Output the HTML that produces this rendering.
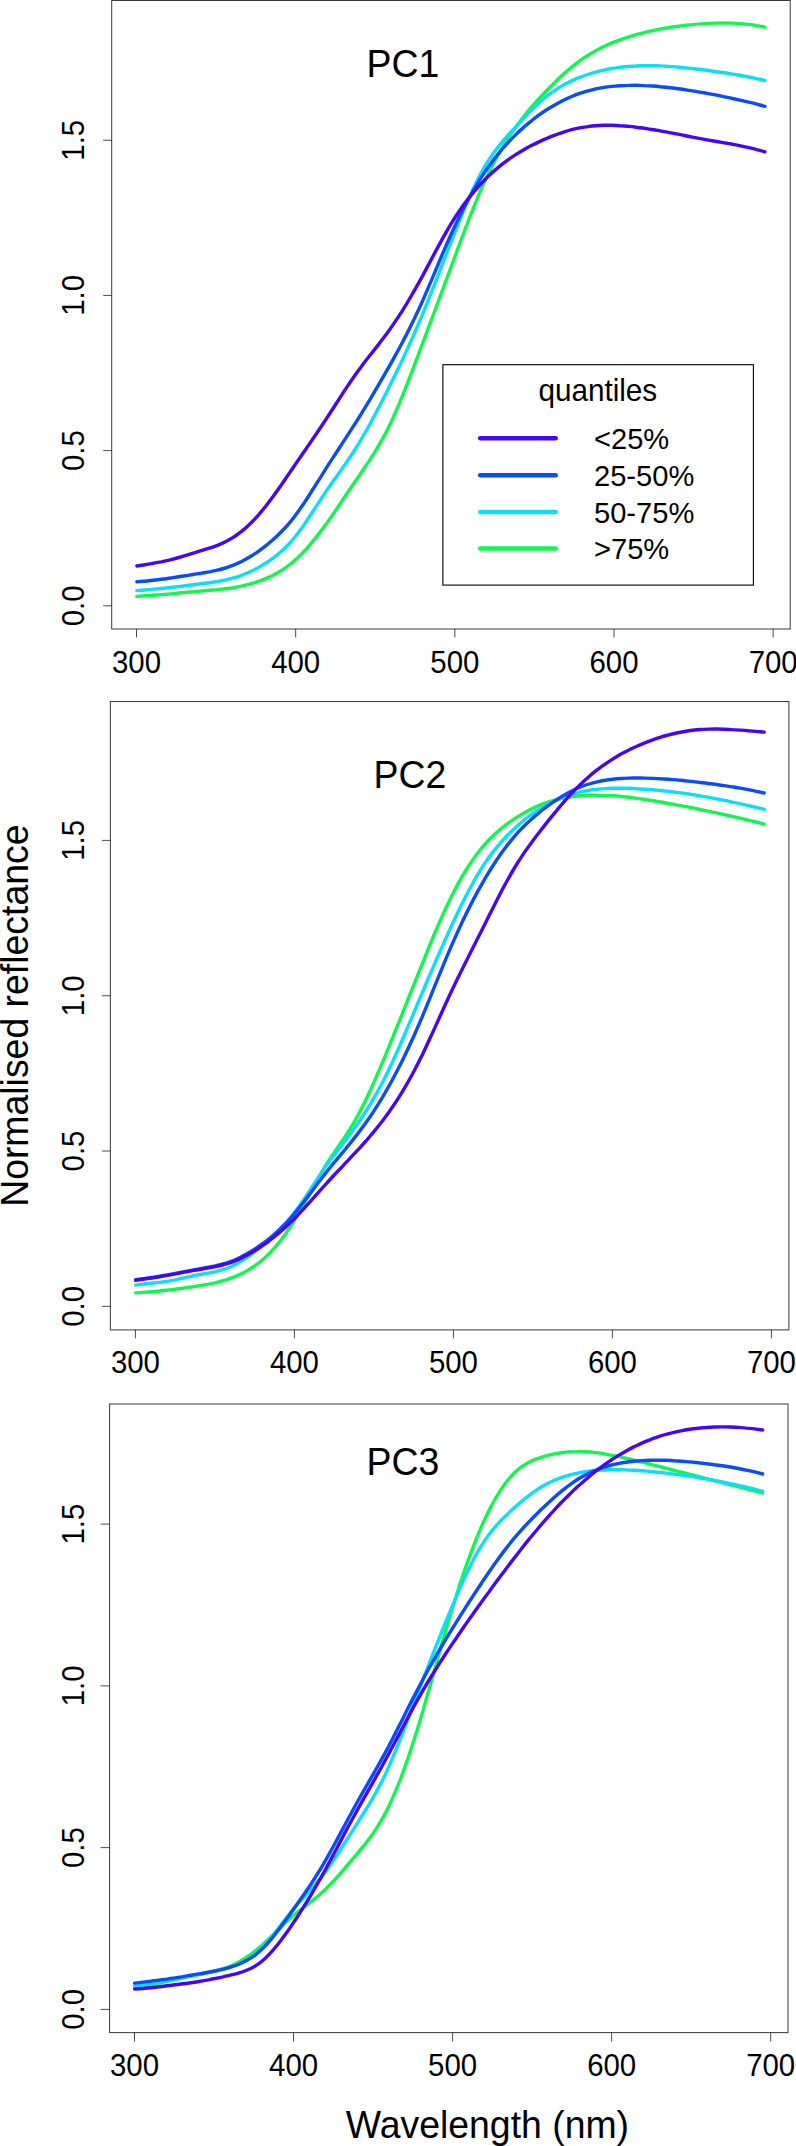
<!DOCTYPE html>
<html><head><meta charset="utf-8"><title>Normalised reflectance by PC quantiles</title>
<style>
html,body{margin:0;padding:0;background:#fff;}
body{width:796px;height:2146px;overflow:hidden;}
svg{display:block;}
text{font-family:"Liberation Sans", Arial, sans-serif;fill:#000;}
.tk{font-size:29.4px;}
.big{font-size:37.4px;}
.fr{fill:none;stroke:#3a3a3a;stroke-width:1;}
.t{stroke:#111;stroke-width:0.75;fill:none;}
.cv{fill:none;stroke-width:3.4;stroke-linecap:round;stroke-linejoin:round;}
</style></head><body>
<svg width="796" height="2146" viewBox="0 0 796 2146">
<rect x="0" y="0" width="796" height="2146" fill="#fff"/>

<g id="panel1">
<rect class="fr" x="111.7" y="0.5" width="678.50" height="628.50"/>
<line class="t" x1="136.50" y1="629.0" x2="136.50" y2="637.5"/>
<text class="tk" transform="translate(136.50,673.2) scale(1,1.04)" text-anchor="middle">300</text>
<line class="t" x1="295.66" y1="629.0" x2="295.66" y2="637.5"/>
<text class="tk" transform="translate(295.66,673.2) scale(1,1.04)" text-anchor="middle">400</text>
<line class="t" x1="454.82" y1="629.0" x2="454.82" y2="637.5"/>
<text class="tk" transform="translate(454.82,673.2) scale(1,1.04)" text-anchor="middle">500</text>
<line class="t" x1="613.99" y1="629.0" x2="613.99" y2="637.5"/>
<text class="tk" transform="translate(613.99,673.2) scale(1,1.04)" text-anchor="middle">600</text>
<line class="t" x1="773.15" y1="629.0" x2="773.15" y2="637.5"/>
<text class="tk" transform="translate(773.15,673.2) scale(1,1.04)" text-anchor="middle">700</text>
<line class="t" x1="111.7" y1="605.80" x2="103.2" y2="605.80"/>
<text class="tk" transform="translate(83.70,605.80) rotate(-90) scale(1,1.04)" text-anchor="middle">0.0</text>
<line class="t" x1="111.7" y1="450.62" x2="103.2" y2="450.62"/>
<text class="tk" transform="translate(83.70,450.62) rotate(-90) scale(1,1.04)" text-anchor="middle">0.5</text>
<line class="t" x1="111.7" y1="295.43" x2="103.2" y2="295.43"/>
<text class="tk" transform="translate(83.70,295.43) rotate(-90) scale(1,1.04)" text-anchor="middle">1.0</text>
<line class="t" x1="111.7" y1="140.25" x2="103.2" y2="140.25"/>
<text class="tk" transform="translate(83.70,140.25) rotate(-90) scale(1,1.04)" text-anchor="middle">1.5</text>
<path class="cv" stroke="#14F550" d="M136.9,596.4C139.6,596.2 142.3,596.0 145.0,595.8C147.6,595.6 150.3,595.4 153.0,595.2C155.7,595.0 158.4,594.8 161.1,594.6C163.7,594.4 166.4,594.2 169.1,594.0C171.8,593.7 174.5,593.5 177.2,593.2C179.8,592.9 182.5,592.7 185.2,592.4C187.9,592.2 190.6,591.9 193.3,591.7C195.9,591.4 198.6,591.2 201.3,591.0C204.0,590.7 206.7,590.5 209.4,590.3C212.0,590.1 214.7,589.9 217.4,589.7C220.1,589.4 222.8,589.1 225.5,588.8C228.1,588.5 230.8,588.1 233.5,587.7C236.2,587.2 238.9,586.7 241.6,586.1C244.3,585.6 246.9,584.9 249.6,584.2C252.3,583.4 255.0,582.6 257.7,581.6C260.4,580.7 263.0,579.7 265.7,578.6C268.4,577.4 271.1,576.2 273.8,574.8C276.5,573.4 279.1,571.9 281.8,570.2C284.5,568.5 287.2,566.6 289.9,564.5C292.6,562.4 295.2,560.1 297.9,557.5C300.6,555.0 303.3,552.2 306.0,549.3C308.7,546.3 311.3,543.2 314.0,539.9C316.7,536.6 319.4,533.2 322.1,529.6C324.8,526.0 327.4,522.3 330.1,518.4C332.8,514.6 335.5,510.7 338.2,506.8C340.9,502.8 343.5,498.8 346.2,494.8C348.9,490.8 351.6,486.8 354.3,482.8C357.0,478.9 359.7,475.0 362.3,471.0C365.0,467.1 367.7,463.2 370.4,459.1C373.1,455.0 375.8,450.7 378.4,446.2C381.1,441.6 383.8,436.8 386.5,431.6C389.2,426.3 391.9,420.7 394.5,414.6C397.2,408.6 399.9,402.2 402.6,395.6C405.3,389.0 408.0,382.1 410.6,375.1C413.3,368.1 416.0,361.0 418.7,353.8C421.4,346.7 424.1,339.6 426.7,332.4C429.4,325.2 432.1,318.1 434.8,310.9C437.5,303.7 440.2,296.5 442.8,289.3C445.5,282.0 448.2,274.8 450.9,267.5C453.6,260.2 456.3,252.9 459.0,245.7C461.6,238.4 464.3,231.3 467.0,224.3C469.7,217.2 472.4,210.4 475.1,203.8C477.7,197.2 480.4,190.9 483.1,184.9C485.8,179.0 488.5,173.4 491.2,168.1C493.8,162.8 496.5,157.8 499.2,153.1C501.9,148.4 504.6,143.9 507.3,139.7C509.9,135.5 512.6,131.5 515.3,127.8C518.0,124.0 520.7,120.4 523.4,117.0C526.0,113.6 528.7,110.3 531.4,107.2C534.1,104.1 536.8,101.1 539.5,98.2C542.1,95.3 544.8,92.4 547.5,89.7C550.2,86.9 552.9,84.2 555.6,81.6C558.3,79.0 560.9,76.5 563.6,74.1C566.3,71.6 569.0,69.3 571.7,67.1C574.4,64.9 577.0,62.9 579.7,60.9C582.4,59.0 585.1,57.2 587.8,55.5C590.5,53.8 593.1,52.2 595.8,50.7C598.5,49.2 601.2,47.8 603.9,46.5C606.6,45.2 609.2,44.1 611.9,42.9C614.6,41.8 617.3,40.8 620.0,39.8C622.7,38.8 625.3,37.9 628.0,37.1C630.7,36.3 633.4,35.5 636.1,34.7C638.8,34.0 641.4,33.3 644.1,32.6C646.8,32.0 649.5,31.3 652.2,30.7C654.9,30.2 657.5,29.6 660.2,29.1C662.9,28.6 665.6,28.1 668.3,27.7C671.0,27.2 673.7,26.8 676.3,26.5C679.0,26.1 681.7,25.7 684.4,25.4C687.1,25.1 689.8,24.8 692.4,24.6C695.1,24.3 697.8,24.1 700.5,23.9C703.2,23.7 705.9,23.6 708.5,23.4C711.2,23.3 713.9,23.2 716.6,23.1C719.3,23.0 722.0,23.0 724.6,23.0C727.3,23.0 730.0,23.0 732.7,23.1C735.4,23.2 738.1,23.4 740.7,23.6C743.4,23.8 746.1,24.0 748.8,24.4C751.5,24.7 754.2,25.1 756.8,25.6C759.5,26.0 762.2,26.6 764.9,27.2"/>
<path class="cv" stroke="#0CDDF8" d="M136.9,590.6C139.6,590.4 142.3,590.2 145.0,590.0C147.6,589.8 150.3,589.5 153.0,589.3C155.7,589.0 158.4,588.8 161.1,588.5C163.7,588.2 166.4,587.9 169.1,587.6C171.8,587.3 174.5,587.0 177.2,586.7C179.8,586.4 182.5,586.1 185.2,585.7C187.9,585.4 190.6,585.0 193.3,584.7C195.9,584.4 198.6,584.0 201.3,583.7C204.0,583.4 206.7,583.0 209.4,582.7C212.0,582.3 214.7,581.9 217.4,581.5C220.1,581.0 222.8,580.5 225.5,580.0C228.1,579.4 230.8,578.7 233.5,577.9C236.2,577.1 238.9,576.3 241.6,575.3C244.3,574.3 246.9,573.2 249.6,572.0C252.3,570.8 255.0,569.4 257.7,568.0C260.4,566.5 263.0,565.0 265.7,563.3C268.4,561.6 271.1,559.8 273.8,557.7C276.5,555.7 279.1,553.5 281.8,551.1C284.5,548.6 287.2,545.9 289.9,543.0C292.6,540.0 295.2,536.7 297.9,533.2C300.6,529.7 303.3,525.9 306.0,521.9C308.7,518.0 311.3,513.9 314.0,509.8C316.7,505.7 319.4,501.5 322.1,497.5C324.8,493.4 327.4,489.4 330.1,485.6C332.8,481.7 335.5,478.0 338.2,474.2C340.9,470.4 343.5,466.6 346.2,462.7C348.9,458.8 351.6,454.8 354.3,450.7C357.0,446.5 359.7,442.1 362.3,437.5C365.0,433.0 367.7,428.2 370.4,423.3C373.1,418.4 375.8,413.3 378.4,408.1C381.1,403.0 383.8,397.7 386.5,392.4C389.2,387.0 391.9,381.6 394.5,376.1C397.2,370.6 399.9,365.1 402.6,359.4C405.3,353.7 408.0,347.9 410.6,341.9C413.3,336.0 416.0,329.8 418.7,323.5C421.4,317.2 424.1,310.7 426.7,304.1C429.4,297.5 432.1,290.7 434.8,283.8C437.5,277.0 440.2,270.1 442.8,263.1C445.5,256.2 448.2,249.3 450.9,242.4C453.6,235.5 456.3,228.7 459.0,222.0C461.6,215.4 464.3,208.9 467.0,202.6C469.7,196.4 472.4,190.5 475.1,184.9C477.7,179.3 480.4,174.1 483.1,169.4C485.8,164.6 488.5,160.4 491.2,156.5C493.8,152.5 496.5,149.0 499.2,145.6C501.9,142.3 504.6,139.2 507.3,136.2C509.9,133.2 512.6,130.3 515.3,127.3C518.0,124.4 520.7,121.5 523.4,118.7C526.0,115.8 528.7,113.0 531.4,110.3C534.1,107.6 536.8,105.0 539.5,102.6C542.1,100.1 544.8,97.8 547.5,95.7C550.2,93.6 552.9,91.7 555.6,89.9C558.3,88.1 560.9,86.5 563.6,85.0C566.3,83.5 569.0,82.2 571.7,80.9C574.4,79.6 577.0,78.5 579.7,77.4C582.4,76.4 585.1,75.4 587.8,74.5C590.5,73.6 593.1,72.8 595.8,72.1C598.5,71.3 601.2,70.7 603.9,70.1C606.6,69.5 609.2,69.0 611.9,68.5C614.6,68.0 617.3,67.7 620.0,67.3C622.7,67.0 625.3,66.7 628.0,66.5C630.7,66.3 633.4,66.1 636.1,66.0C638.8,65.8 641.4,65.8 644.1,65.7C646.8,65.7 649.5,65.7 652.2,65.7C654.9,65.8 657.5,65.8 660.2,65.9C662.9,66.0 665.6,66.2 668.3,66.4C671.0,66.5 673.7,66.7 676.3,66.9C679.0,67.2 681.7,67.4 684.4,67.7C687.1,68.0 689.8,68.2 692.4,68.5C695.1,68.9 697.8,69.2 700.5,69.5C703.2,69.8 705.9,70.2 708.5,70.5C711.2,70.9 713.9,71.3 716.6,71.7C719.3,72.0 722.0,72.4 724.6,72.8C727.3,73.2 730.0,73.7 732.7,74.1C735.4,74.5 738.1,75.0 740.7,75.5C743.4,76.0 746.1,76.5 748.8,77.0C751.5,77.5 754.2,78.1 756.8,78.6C759.5,79.2 762.2,79.8 764.9,80.4"/>
<path class="cv" stroke="#0A4CF5" d="M136.9,581.8C139.6,581.6 142.3,581.4 145.0,581.2C147.6,580.9 150.3,580.6 153.0,580.3C155.7,580.0 158.4,579.7 161.1,579.3C163.7,579.0 166.4,578.6 169.1,578.2C171.8,577.8 174.5,577.4 177.2,577.0C179.8,576.6 182.5,576.2 185.2,575.8C187.9,575.4 190.6,574.9 193.3,574.5C195.9,574.1 198.6,573.6 201.3,573.2C204.0,572.7 206.7,572.3 209.4,571.8C212.0,571.3 214.7,570.7 217.4,570.1C220.1,569.5 222.8,568.8 225.5,568.0C228.1,567.1 230.8,566.2 233.5,565.1C236.2,564.0 238.9,562.8 241.6,561.5C244.3,560.1 246.9,558.6 249.6,557.0C252.3,555.4 255.0,553.7 257.7,551.8C260.4,549.9 263.0,548.0 265.7,545.9C268.4,543.8 271.1,541.5 273.8,539.1C276.5,536.7 279.1,534.1 281.8,531.3C284.5,528.5 287.2,525.6 289.9,522.3C292.6,519.1 295.2,515.6 297.9,511.9C300.6,508.2 303.3,504.2 306.0,500.2C308.7,496.1 311.3,491.9 314.0,487.6C316.7,483.3 319.4,479.0 322.1,474.8C324.8,470.5 327.4,466.2 330.1,462.1C332.8,457.9 335.5,453.8 338.2,449.7C340.9,445.6 343.5,441.5 346.2,437.4C348.9,433.2 351.6,429.1 354.3,424.9C357.0,420.7 359.7,416.4 362.3,412.1C365.0,407.7 367.7,403.3 370.4,398.8C373.1,394.3 375.8,389.8 378.4,385.2C381.1,380.6 383.8,375.9 386.5,371.2C389.2,366.5 391.9,361.8 394.5,356.9C397.2,352.1 399.9,347.1 402.6,342.0C405.3,337.0 408.0,331.8 410.6,326.3C413.3,320.9 416.0,315.3 418.7,309.5C421.4,303.6 424.1,297.5 426.7,291.3C429.4,285.1 432.1,278.7 434.8,272.3C437.5,265.9 440.2,259.5 442.8,253.1C445.5,246.8 448.2,240.7 450.9,234.7C453.6,228.7 456.3,223.0 459.0,217.5C461.6,212.1 464.3,206.8 467.0,201.8C469.7,196.8 472.4,192.0 475.1,187.5C477.7,182.9 480.4,178.6 483.1,174.6C485.8,170.5 488.5,166.6 491.2,163.0C493.8,159.3 496.5,155.9 499.2,152.6C501.9,149.4 504.6,146.3 507.3,143.4C509.9,140.5 512.6,137.7 515.3,135.1C518.0,132.4 520.7,129.9 523.4,127.6C526.0,125.2 528.7,122.9 531.4,120.8C534.1,118.7 536.8,116.6 539.5,114.7C542.1,112.8 544.8,111.0 547.5,109.3C550.2,107.6 552.9,106.0 555.6,104.5C558.3,102.9 560.9,101.5 563.6,100.2C566.3,98.9 569.0,97.7 571.7,96.5C574.4,95.4 577.0,94.4 579.7,93.4C582.4,92.5 585.1,91.7 587.8,90.9C590.5,90.2 593.1,89.5 595.8,88.9C598.5,88.4 601.2,87.9 603.9,87.4C606.6,87.0 609.2,86.7 611.9,86.4C614.6,86.1 617.3,85.9 620.0,85.7C622.7,85.5 625.3,85.4 628.0,85.4C630.7,85.3 633.4,85.3 636.1,85.3C638.8,85.4 641.4,85.4 644.1,85.6C646.8,85.7 649.5,85.8 652.2,86.0C654.9,86.2 657.5,86.4 660.2,86.7C662.9,86.9 665.6,87.2 668.3,87.5C671.0,87.8 673.7,88.1 676.3,88.5C679.0,88.9 681.7,89.2 684.4,89.6C687.1,90.0 689.8,90.5 692.4,90.9C695.1,91.3 697.8,91.8 700.5,92.3C703.2,92.7 705.9,93.2 708.5,93.7C711.2,94.2 713.9,94.7 716.6,95.2C719.3,95.8 722.0,96.3 724.6,96.8C727.3,97.4 730.0,97.9 732.7,98.5C735.4,99.1 738.1,99.7 740.7,100.3C743.4,100.9 746.1,101.5 748.8,102.2C751.5,102.8 754.2,103.5 756.8,104.2C759.5,104.9 762.2,105.6 764.9,106.3"/>
<path class="cv" stroke="#4805F5" d="M136.9,566.0C139.6,565.5 142.3,565.1 145.0,564.7C147.6,564.3 150.3,563.8 153.0,563.3C155.7,562.9 158.4,562.4 161.1,561.9C163.7,561.3 166.4,560.7 169.1,560.1C171.8,559.4 174.5,558.7 177.2,558.0C179.8,557.3 182.5,556.5 185.2,555.7C187.9,554.9 190.6,554.0 193.3,553.2C195.9,552.4 198.6,551.6 201.3,550.7C204.0,549.9 206.7,549.1 209.4,548.2C212.0,547.4 214.7,546.4 217.4,545.4C220.1,544.3 222.8,543.2 225.5,541.8C228.1,540.5 230.8,539.0 233.5,537.2C236.2,535.5 238.9,533.5 241.6,531.4C244.3,529.2 246.9,526.8 249.6,524.2C252.3,521.6 255.0,518.8 257.7,515.8C260.4,512.8 263.0,509.6 265.7,506.2C268.4,502.8 271.1,499.2 273.8,495.5C276.5,491.9 279.1,488.0 281.8,484.2C284.5,480.3 287.2,476.3 289.9,472.4C292.6,468.5 295.2,464.5 297.9,460.6C300.6,456.7 303.3,452.9 306.0,449.0C308.7,445.1 311.3,441.2 314.0,437.2C316.7,433.3 319.4,429.3 322.1,425.3C324.8,421.2 327.4,417.1 330.1,413.0C332.8,408.8 335.5,404.6 338.2,400.5C340.9,396.3 343.5,392.1 346.2,388.1C348.9,384.0 351.6,380.0 354.3,376.2C357.0,372.4 359.7,368.7 362.3,365.2C365.0,361.6 367.7,358.2 370.4,354.8C373.1,351.4 375.8,348.0 378.4,344.6C381.1,341.1 383.8,337.6 386.5,334.0C389.2,330.3 391.9,326.5 394.5,322.6C397.2,318.6 399.9,314.5 402.6,310.3C405.3,306.0 408.0,301.6 410.6,297.0C413.3,292.5 416.0,287.8 418.7,282.9C421.4,278.1 424.1,273.1 426.7,268.1C429.4,263.1 432.1,258.0 434.8,252.9C437.5,247.9 440.2,242.9 442.8,238.1C445.5,233.3 448.2,228.6 450.9,224.1C453.6,219.7 456.3,215.5 459.0,211.5C461.6,207.6 464.3,203.8 467.0,200.3C469.7,196.8 472.4,193.5 475.1,190.3C477.7,187.2 480.4,184.3 483.1,181.5C485.8,178.7 488.5,176.1 491.2,173.6C493.8,171.1 496.5,168.8 499.2,166.6C501.9,164.4 504.6,162.4 507.3,160.4C509.9,158.5 512.6,156.6 515.3,154.9C518.0,153.2 520.7,151.5 523.4,150.0C526.0,148.4 528.7,147.0 531.4,145.6C534.1,144.2 536.8,142.9 539.5,141.6C542.1,140.4 544.8,139.2 547.5,138.1C550.2,136.9 552.9,135.9 555.6,134.9C558.3,133.9 560.9,132.9 563.6,132.1C566.3,131.2 569.0,130.4 571.7,129.7C574.4,129.0 577.0,128.4 579.7,127.9C582.4,127.4 585.1,126.9 587.8,126.6C590.5,126.2 593.1,125.9 595.8,125.7C598.5,125.5 601.2,125.4 603.9,125.3C606.6,125.3 609.2,125.3 611.9,125.3C614.6,125.4 617.3,125.5 620.0,125.7C622.7,125.8 625.3,126.0 628.0,126.3C630.7,126.5 633.4,126.8 636.1,127.2C638.8,127.5 641.4,127.9 644.1,128.2C646.8,128.6 649.5,129.1 652.2,129.5C654.9,129.9 657.5,130.4 660.2,130.9C662.9,131.4 665.6,131.8 668.3,132.4C671.0,132.9 673.7,133.4 676.3,133.9C679.0,134.4 681.7,135.0 684.4,135.5C687.1,136.0 689.8,136.5 692.4,137.1C695.1,137.6 697.8,138.1 700.5,138.6C703.2,139.1 705.9,139.6 708.5,140.1C711.2,140.6 713.9,141.0 716.6,141.5C719.3,142.0 722.0,142.4 724.6,142.9C727.3,143.4 730.0,143.9 732.7,144.3C735.4,144.8 738.1,145.4 740.7,145.9C743.4,146.4 746.1,147.0 748.8,147.6C751.5,148.2 754.2,148.9 756.8,149.6C759.5,150.2 762.2,151.0 764.9,151.8"/>
<text class="big" transform="translate(366.6,76.6) scale(1,1.04)">PC1</text>
</g>
<g id="panel2">
<rect class="fr" x="110.35" y="701.5" width="678.55" height="628.40"/>
<line class="t" x1="135.40" y1="1329.9" x2="135.40" y2="1338.4"/>
<text class="tk" transform="translate(135.40,1373.4) scale(1,1.04)" text-anchor="middle">300</text>
<line class="t" x1="294.40" y1="1329.9" x2="294.40" y2="1338.4"/>
<text class="tk" transform="translate(294.40,1373.4) scale(1,1.04)" text-anchor="middle">400</text>
<line class="t" x1="453.40" y1="1329.9" x2="453.40" y2="1338.4"/>
<text class="tk" transform="translate(453.40,1373.4) scale(1,1.04)" text-anchor="middle">500</text>
<line class="t" x1="612.40" y1="1329.9" x2="612.40" y2="1338.4"/>
<text class="tk" transform="translate(612.40,1373.4) scale(1,1.04)" text-anchor="middle">600</text>
<line class="t" x1="771.40" y1="1329.9" x2="771.40" y2="1338.4"/>
<text class="tk" transform="translate(771.40,1373.4) scale(1,1.04)" text-anchor="middle">700</text>
<line class="t" x1="110.35" y1="1306.35" x2="101.85" y2="1306.35"/>
<text class="tk" transform="translate(83.70,1306.35) rotate(-90) scale(1,1.04)" text-anchor="middle">0.0</text>
<line class="t" x1="110.35" y1="1151.03" x2="101.85" y2="1151.03"/>
<text class="tk" transform="translate(83.70,1151.03) rotate(-90) scale(1,1.04)" text-anchor="middle">0.5</text>
<line class="t" x1="110.35" y1="995.72" x2="101.85" y2="995.72"/>
<text class="tk" transform="translate(83.70,995.72) rotate(-90) scale(1,1.04)" text-anchor="middle">1.0</text>
<line class="t" x1="110.35" y1="840.40" x2="101.85" y2="840.40"/>
<text class="tk" transform="translate(83.70,840.40) rotate(-90) scale(1,1.04)" text-anchor="middle">1.5</text>
<path class="cv" stroke="#14F550" d="M135.6,1292.9C138.3,1292.7 140.9,1292.6 143.6,1292.4C146.2,1292.2 148.9,1292.0 151.5,1291.7C154.2,1291.5 156.8,1291.2 159.5,1291.0C162.1,1290.7 164.8,1290.4 167.4,1290.1C170.1,1289.8 172.7,1289.5 175.4,1289.1C178.0,1288.8 180.7,1288.5 183.3,1288.1C186.0,1287.8 188.6,1287.4 191.3,1287.0C194.0,1286.6 196.6,1286.2 199.3,1285.8C201.9,1285.4 204.6,1284.9 207.2,1284.4C209.9,1283.9 212.5,1283.4 215.2,1282.8C217.8,1282.2 220.5,1281.5 223.1,1280.7C225.8,1280.0 228.4,1279.1 231.1,1278.1C233.7,1277.2 236.4,1276.1 239.0,1274.9C241.7,1273.7 244.3,1272.3 247.0,1270.8C249.6,1269.2 252.3,1267.6 255.0,1265.7C257.6,1263.8 260.3,1261.7 262.9,1259.4C265.6,1257.1 268.2,1254.6 270.9,1251.9C273.5,1249.1 276.2,1246.1 278.8,1242.9C281.5,1239.6 284.1,1236.1 286.8,1232.3C289.4,1228.5 292.1,1224.4 294.7,1220.0C297.4,1215.6 300.0,1211.0 302.7,1206.2C305.3,1201.5 308.0,1196.6 310.7,1191.7C313.3,1186.9 316.0,1182.0 318.6,1177.4C321.3,1172.7 323.9,1168.3 326.6,1164.1C329.2,1159.9 331.9,1156.0 334.5,1152.1C337.2,1148.2 339.8,1144.4 342.5,1140.5C345.1,1136.6 347.8,1132.6 350.4,1128.3C353.1,1124.0 355.7,1119.5 358.4,1114.5C361.0,1109.6 363.7,1104.3 366.4,1098.8C369.0,1093.2 371.7,1087.4 374.3,1081.4C377.0,1075.4 379.6,1069.2 382.3,1062.9C384.9,1056.6 387.6,1050.2 390.2,1043.7C392.9,1037.2 395.5,1030.6 398.2,1024.0C400.8,1017.5 403.5,1010.8 406.1,1004.2C408.8,997.5 411.4,990.9 414.1,984.2C416.7,977.6 419.4,970.9 422.1,964.3C424.7,957.7 427.4,951.2 430.0,944.7C432.7,938.3 435.3,932.0 438.0,925.8C440.6,919.7 443.3,913.8 445.9,908.1C448.6,902.4 451.2,896.9 453.9,891.8C456.5,886.6 459.2,881.8 461.8,877.2C464.5,872.6 467.1,868.3 469.8,864.3C472.4,860.2 475.1,856.5 477.7,853.0C480.4,849.5 483.1,846.3 485.7,843.3C488.4,840.4 491.0,837.7 493.7,835.2C496.3,832.6 499.0,830.3 501.6,828.2C504.3,826.0 506.9,824.1 509.6,822.2C512.2,820.3 514.9,818.5 517.5,816.9C520.2,815.2 522.8,813.6 525.5,812.2C528.1,810.7 530.8,809.3 533.4,808.1C536.1,806.8 538.8,805.6 541.4,804.6C544.1,803.5 546.7,802.6 549.4,801.7C552.0,800.9 554.7,800.1 557.3,799.5C560.0,798.8 562.6,798.2 565.3,797.8C567.9,797.3 570.6,796.9 573.2,796.5C575.9,796.2 578.5,795.9 581.2,795.7C583.8,795.5 586.5,795.4 589.1,795.3C591.8,795.2 594.5,795.1 597.1,795.2C599.8,795.2 602.4,795.2 605.1,795.4C607.7,795.5 610.4,795.6 613.0,795.8C615.7,796.0 618.3,796.2 621.0,796.5C623.6,796.7 626.3,797.0 628.9,797.3C631.6,797.7 634.2,798.0 636.9,798.4C639.5,798.7 642.2,799.1 644.8,799.5C647.5,799.9 650.2,800.3 652.8,800.7C655.5,801.1 658.1,801.6 660.8,802.0C663.4,802.5 666.1,802.9 668.7,803.4C671.4,803.9 674.0,804.4 676.7,804.9C679.3,805.3 682.0,805.9 684.6,806.4C687.3,806.9 689.9,807.4 692.6,807.9C695.2,808.5 697.9,809.0 700.5,809.6C703.2,810.1 705.8,810.7 708.5,811.2C711.2,811.8 713.8,812.3 716.5,812.9C719.1,813.5 721.8,814.1 724.4,814.6C727.1,815.2 729.7,815.8 732.4,816.4C735.0,817.0 737.7,817.6 740.3,818.2C743.0,818.8 745.6,819.5 748.3,820.1C750.9,820.7 753.6,821.4 756.2,822.0C758.9,822.7 761.5,823.4 764.2,824.1"/>
<path class="cv" stroke="#0CDDF8" d="M135.6,1285.1C138.3,1284.7 140.9,1284.4 143.6,1284.1C146.2,1283.8 148.9,1283.6 151.5,1283.3C154.2,1283.0 156.8,1282.7 159.5,1282.4C162.1,1282.1 164.8,1281.7 167.4,1281.3C170.1,1280.8 172.7,1280.3 175.4,1279.8C178.0,1279.2 180.7,1278.6 183.3,1278.0C186.0,1277.4 188.6,1276.8 191.3,1276.3C194.0,1275.7 196.6,1275.1 199.3,1274.6C201.9,1274.2 204.6,1273.7 207.2,1273.3C209.9,1272.8 212.5,1272.3 215.2,1271.8C217.8,1271.2 220.5,1270.5 223.1,1269.7C225.8,1268.9 228.4,1267.9 231.1,1266.7C233.7,1265.5 236.4,1264.1 239.0,1262.5C241.7,1260.9 244.3,1259.2 247.0,1257.3C249.6,1255.4 252.3,1253.4 255.0,1251.3C257.6,1249.2 260.3,1247.1 262.9,1244.9C265.6,1242.7 268.2,1240.4 270.9,1238.0C273.5,1235.7 276.2,1233.2 278.8,1230.5C281.5,1227.9 284.1,1225.1 286.8,1222.0C289.4,1219.0 292.1,1215.7 294.7,1212.2C297.4,1208.7 300.0,1204.9 302.7,1201.1C305.3,1197.2 308.0,1193.2 310.7,1189.1C313.3,1185.1 316.0,1181.0 318.6,1177.1C321.3,1173.1 323.9,1169.2 326.6,1165.5C329.2,1161.8 331.9,1158.3 334.5,1154.8C337.2,1151.3 339.8,1147.8 342.5,1144.4C345.1,1140.9 347.8,1137.4 350.4,1133.8C353.1,1130.2 355.7,1126.5 358.4,1122.7C361.0,1118.8 363.7,1114.8 366.4,1110.5C369.0,1106.3 371.7,1101.9 374.3,1097.3C377.0,1092.6 379.6,1087.8 382.3,1082.7C384.9,1077.6 387.6,1072.3 390.2,1066.7C392.9,1061.1 395.5,1055.3 398.2,1049.3C400.8,1043.3 403.5,1037.2 406.1,1031.0C408.8,1024.8 411.4,1018.5 414.1,1012.2C416.7,1005.9 419.4,999.5 422.1,993.3C424.7,987.0 427.4,980.7 430.0,974.5C432.7,968.3 435.3,962.2 438.0,956.1C440.6,950.1 443.3,944.1 445.9,938.2C448.6,932.3 451.2,926.5 453.9,920.8C456.5,915.2 459.2,909.6 461.8,904.3C464.5,898.9 467.1,893.7 469.8,888.8C472.4,883.8 475.1,879.0 477.7,874.6C480.4,870.1 483.1,865.9 485.7,862.0C488.4,858.1 491.0,854.5 493.7,851.1C496.3,847.7 499.0,844.5 501.6,841.6C504.3,838.6 506.9,835.8 509.6,833.2C512.2,830.5 514.9,828.0 517.5,825.7C520.2,823.3 522.8,821.1 525.5,819.0C528.1,816.9 530.8,815.0 533.4,813.1C536.1,811.3 538.8,809.6 541.4,808.0C544.1,806.4 546.7,804.9 549.4,803.5C552.0,802.1 554.7,800.8 557.3,799.7C560.0,798.5 562.6,797.5 565.3,796.5C567.9,795.6 570.6,794.7 573.2,793.9C575.9,793.2 578.5,792.5 581.2,791.9C583.8,791.3 586.5,790.8 589.1,790.3C591.8,789.9 594.5,789.5 597.1,789.3C599.8,789.0 602.4,788.7 605.1,788.6C607.7,788.4 610.4,788.3 613.0,788.2C615.7,788.1 618.3,788.1 621.0,788.1C623.6,788.2 626.3,788.2 628.9,788.3C631.6,788.4 634.2,788.5 636.9,788.7C639.5,788.8 642.2,789.0 644.8,789.2C647.5,789.4 650.2,789.6 652.8,789.8C655.5,790.0 658.1,790.3 660.8,790.5C663.4,790.8 666.1,791.1 668.7,791.4C671.4,791.7 674.0,792.0 676.7,792.4C679.3,792.7 682.0,793.1 684.6,793.4C687.3,793.8 689.9,794.2 692.6,794.6C695.2,795.1 697.9,795.5 700.5,795.9C703.2,796.4 705.8,796.9 708.5,797.3C711.2,797.8 713.8,798.3 716.5,798.8C719.1,799.3 721.8,799.9 724.4,800.4C727.1,800.9 729.7,801.5 732.4,802.1C735.0,802.6 737.7,803.2 740.3,803.8C743.0,804.4 745.6,805.0 748.3,805.6C750.9,806.2 753.6,806.8 756.2,807.4C758.9,808.0 761.5,808.7 764.2,809.3"/>
<path class="cv" stroke="#0A4CF5" d="M135.6,1279.8C138.3,1279.4 140.9,1279.1 143.6,1278.7C146.2,1278.3 148.9,1277.9 151.5,1277.5C154.2,1277.1 156.8,1276.6 159.5,1276.2C162.1,1275.7 164.8,1275.3 167.4,1274.8C170.1,1274.3 172.7,1273.8 175.4,1273.3C178.0,1272.8 180.7,1272.3 183.3,1271.8C186.0,1271.3 188.6,1270.8 191.3,1270.3C194.0,1269.8 196.6,1269.3 199.3,1268.8C201.9,1268.3 204.6,1267.9 207.2,1267.4C209.9,1266.9 212.5,1266.4 215.2,1265.9C217.8,1265.3 220.5,1264.7 223.1,1263.9C225.8,1263.2 228.4,1262.3 231.1,1261.4C233.7,1260.4 236.4,1259.2 239.0,1258.0C241.7,1256.7 244.3,1255.3 247.0,1253.8C249.6,1252.3 252.3,1250.7 255.0,1248.9C257.6,1247.2 260.3,1245.4 262.9,1243.4C265.6,1241.5 268.2,1239.4 270.9,1237.2C273.5,1235.0 276.2,1232.7 278.8,1230.2C281.5,1227.7 284.1,1225.1 286.8,1222.3C289.4,1219.5 292.1,1216.5 294.7,1213.3C297.4,1210.1 300.0,1206.8 302.7,1203.3C305.3,1199.9 308.0,1196.3 310.7,1192.8C313.3,1189.2 316.0,1185.7 318.6,1182.1C321.3,1178.6 323.9,1175.2 326.6,1171.9C329.2,1168.5 331.9,1165.3 334.5,1162.1C337.2,1158.9 339.8,1155.8 342.5,1152.6C345.1,1149.4 347.8,1146.3 350.4,1143.0C353.1,1139.7 355.7,1136.4 358.4,1132.9C361.0,1129.4 363.7,1125.8 366.4,1122.0C369.0,1118.3 371.7,1114.4 374.3,1110.3C377.0,1106.2 379.6,1102.0 382.3,1097.6C384.9,1093.2 387.6,1088.6 390.2,1083.8C392.9,1079.0 395.5,1074.0 398.2,1068.8C400.8,1063.7 403.5,1058.3 406.1,1052.7C408.8,1047.2 411.4,1041.4 414.1,1035.5C416.7,1029.5 419.4,1023.4 422.1,1017.1C424.7,1010.7 427.4,1004.3 430.0,997.8C432.7,991.2 435.3,984.7 438.0,978.1C440.6,971.6 443.3,965.1 445.9,958.8C448.6,952.4 451.2,946.2 453.9,940.2C456.5,934.3 459.2,928.5 461.8,922.8C464.5,917.2 467.1,911.8 469.8,906.6C472.4,901.3 475.1,896.3 477.7,891.4C480.4,886.5 483.1,881.9 485.7,877.4C488.4,872.9 491.0,868.6 493.7,864.5C496.3,860.4 499.0,856.5 501.6,852.8C504.3,849.1 506.9,845.6 509.6,842.3C512.2,839.0 514.9,835.9 517.5,832.9C520.2,830.0 522.8,827.3 525.5,824.7C528.1,822.1 530.8,819.7 533.4,817.4C536.1,815.0 538.8,812.9 541.4,810.8C544.1,808.7 546.7,806.7 549.4,804.7C552.0,802.8 554.7,801.0 557.3,799.3C560.0,797.5 562.6,795.9 565.3,794.4C567.9,792.9 570.6,791.5 573.2,790.2C575.9,788.9 578.5,787.8 581.2,786.7C583.8,785.7 586.5,784.8 589.1,784.0C591.8,783.2 594.5,782.5 597.1,781.9C599.8,781.2 602.4,780.7 605.1,780.3C607.7,779.8 610.4,779.5 613.0,779.2C615.7,778.9 618.3,778.7 621.0,778.5C623.6,778.3 626.3,778.2 628.9,778.1C631.6,778.1 634.2,778.0 636.9,778.0C639.5,778.0 642.2,778.1 644.8,778.1C647.5,778.2 650.2,778.3 652.8,778.4C655.5,778.5 658.1,778.6 660.8,778.8C663.4,778.9 666.1,779.1 668.7,779.3C671.4,779.5 674.0,779.7 676.7,779.9C679.3,780.2 682.0,780.4 684.6,780.7C687.3,781.0 689.9,781.2 692.6,781.5C695.2,781.8 697.9,782.1 700.5,782.5C703.2,782.8 705.8,783.1 708.5,783.5C711.2,783.8 713.8,784.1 716.5,784.5C719.1,784.9 721.8,785.3 724.4,785.6C727.1,786.0 729.7,786.4 732.4,786.9C735.0,787.3 737.7,787.7 740.3,788.2C743.0,788.7 745.6,789.2 748.3,789.7C750.9,790.2 753.6,790.7 756.2,791.3C758.9,791.8 761.5,792.4 764.2,793.0"/>
<path class="cv" stroke="#4805F5" d="M135.6,1280.2C138.3,1279.9 140.9,1279.5 143.6,1279.1C146.2,1278.7 148.9,1278.4 151.5,1278.0C154.2,1277.6 156.8,1277.1 159.5,1276.7C162.1,1276.3 164.8,1275.8 167.4,1275.3C170.1,1274.9 172.7,1274.4 175.4,1273.9C178.0,1273.4 180.7,1272.9 183.3,1272.4C186.0,1271.9 188.6,1271.4 191.3,1270.9C194.0,1270.4 196.6,1269.9 199.3,1269.5C201.9,1269.0 204.6,1268.6 207.2,1268.1C209.9,1267.7 212.5,1267.2 215.2,1266.7C217.8,1266.1 220.5,1265.5 223.1,1264.8C225.8,1264.1 228.4,1263.3 231.1,1262.3C233.7,1261.4 236.4,1260.3 239.0,1259.1C241.7,1257.9 244.3,1256.6 247.0,1255.1C249.6,1253.7 252.3,1252.1 255.0,1250.5C257.6,1248.9 260.3,1247.1 262.9,1245.3C265.6,1243.5 268.2,1241.5 270.9,1239.5C273.5,1237.5 276.2,1235.4 278.8,1233.1C281.5,1230.9 284.1,1228.6 286.8,1226.1C289.4,1223.6 292.1,1221.1 294.7,1218.3C297.4,1215.6 300.0,1212.8 302.7,1209.9C305.3,1207.0 308.0,1204.1 310.7,1201.1C313.3,1198.1 316.0,1195.1 318.6,1192.1C321.3,1189.1 323.9,1186.2 326.6,1183.3C329.2,1180.4 331.9,1177.5 334.5,1174.7C337.2,1171.9 339.8,1169.1 342.5,1166.3C345.1,1163.5 347.8,1160.7 350.4,1157.8C353.1,1155.0 355.7,1152.2 358.4,1149.3C361.0,1146.4 363.7,1143.5 366.4,1140.5C369.0,1137.4 371.7,1134.3 374.3,1131.1C377.0,1127.9 379.6,1124.6 382.3,1121.2C384.9,1117.7 387.6,1114.1 390.2,1110.3C392.9,1106.5 395.5,1102.6 398.2,1098.4C400.8,1094.3 403.5,1089.9 406.1,1085.4C408.8,1080.8 411.4,1076.0 414.1,1071.0C416.7,1066.0 419.4,1060.7 422.1,1055.3C424.7,1049.8 427.4,1044.1 430.0,1038.3C432.7,1032.5 435.3,1026.7 438.0,1020.8C440.6,1014.9 443.3,1009.0 445.9,1003.2C448.6,997.4 451.2,991.7 453.9,986.2C456.5,980.7 459.2,975.2 461.8,969.9C464.5,964.6 467.1,959.3 469.8,954.0C472.4,948.8 475.1,943.6 477.7,938.3C480.4,933.0 483.1,927.7 485.7,922.4C488.4,917.1 491.0,911.7 493.7,906.5C496.3,901.2 499.0,896.0 501.6,891.0C504.3,885.9 506.9,881.0 509.6,876.3C512.2,871.6 514.9,867.2 517.5,863.0C520.2,858.8 522.8,854.8 525.5,850.9C528.1,847.1 530.8,843.4 533.4,839.9C536.1,836.3 538.8,832.9 541.4,829.5C544.1,826.1 546.7,822.7 549.4,819.4C552.0,816.1 554.7,812.9 557.3,809.7C560.0,806.5 562.6,803.3 565.3,800.3C567.9,797.3 570.6,794.4 573.2,791.6C575.9,788.8 578.5,786.2 581.2,783.6C583.8,781.1 586.5,778.7 589.1,776.4C591.8,774.1 594.5,772.0 597.1,769.9C599.8,767.9 602.4,765.9 605.1,764.1C607.7,762.2 610.4,760.5 613.0,758.8C615.7,757.2 618.3,755.6 621.0,754.1C623.6,752.6 626.3,751.2 628.9,749.9C631.6,748.6 634.2,747.3 636.9,746.2C639.5,745.0 642.2,743.8 644.8,742.8C647.5,741.7 650.2,740.7 652.8,739.8C655.5,738.8 658.1,738.0 660.8,737.1C663.4,736.3 666.1,735.6 668.7,734.9C671.4,734.2 674.0,733.6 676.7,733.0C679.3,732.4 682.0,731.9 684.6,731.5C687.3,731.0 689.9,730.6 692.6,730.3C695.2,730.0 697.9,729.7 700.5,729.5C703.2,729.3 705.8,729.2 708.5,729.1C711.2,729.0 713.8,729.0 716.5,729.0C719.1,729.0 721.8,729.1 724.4,729.2C727.1,729.3 729.7,729.4 732.4,729.6C735.0,729.7 737.7,729.9 740.3,730.1C743.0,730.3 745.6,730.5 748.3,730.8C750.9,731.0 753.6,731.2 756.2,731.4C758.9,731.6 761.5,731.9 764.2,732.1"/>
<text class="big" transform="translate(373.6,787.6) scale(1,1.04)">PC2</text>
</g>
<g id="panel3">
<rect class="fr" x="109.6" y="1404.0" width="678.40" height="628.60"/>
<line class="t" x1="134.50" y1="2032.6" x2="134.50" y2="2041.6"/>
<text class="tk" transform="translate(134.50,2075.6) scale(1,1.04)" text-anchor="middle">300</text>
<line class="t" x1="293.55" y1="2032.6" x2="293.55" y2="2041.6"/>
<text class="tk" transform="translate(293.55,2075.6) scale(1,1.04)" text-anchor="middle">400</text>
<line class="t" x1="452.60" y1="2032.6" x2="452.60" y2="2041.6"/>
<text class="tk" transform="translate(452.60,2075.6) scale(1,1.04)" text-anchor="middle">500</text>
<line class="t" x1="611.65" y1="2032.6" x2="611.65" y2="2041.6"/>
<text class="tk" transform="translate(611.65,2075.6) scale(1,1.04)" text-anchor="middle">600</text>
<line class="t" x1="770.70" y1="2032.6" x2="770.70" y2="2041.6"/>
<text class="tk" transform="translate(770.70,2075.6) scale(1,1.04)" text-anchor="middle">700</text>
<line class="t" x1="109.6" y1="2009.40" x2="100.6" y2="2009.40"/>
<text class="tk" transform="translate(83.70,2009.40) rotate(-90) scale(1,1.04)" text-anchor="middle">0.0</text>
<line class="t" x1="109.6" y1="1847.63" x2="100.6" y2="1847.63"/>
<text class="tk" transform="translate(83.70,1847.63) rotate(-90) scale(1,1.04)" text-anchor="middle">0.5</text>
<line class="t" x1="109.6" y1="1685.87" x2="100.6" y2="1685.87"/>
<text class="tk" transform="translate(83.70,1685.87) rotate(-90) scale(1,1.04)" text-anchor="middle">1.0</text>
<line class="t" x1="109.6" y1="1524.10" x2="100.6" y2="1524.10"/>
<text class="tk" transform="translate(83.70,1524.10) rotate(-90) scale(1,1.04)" text-anchor="middle">1.5</text>
<path class="cv" stroke="#14F550" d="M134.6,1987.0C137.3,1986.7 140.0,1986.3 142.7,1985.9C145.3,1985.6 148.0,1985.2 150.7,1984.7C153.4,1984.3 156.1,1983.8 158.8,1983.3C161.4,1982.8 164.1,1982.3 166.8,1981.7C169.5,1981.1 172.2,1980.5 174.9,1979.8C177.5,1979.2 180.2,1978.5 182.9,1977.9C185.6,1977.2 188.3,1976.5 191.0,1975.9C193.6,1975.3 196.3,1974.7 199.0,1974.1C201.7,1973.6 204.4,1973.1 207.1,1972.5C209.7,1972.0 212.4,1971.5 215.1,1970.8C217.8,1970.2 220.5,1969.5 223.2,1968.7C225.8,1967.8 228.5,1966.8 231.2,1965.7C233.9,1964.5 236.6,1963.2 239.3,1961.7C242.0,1960.2 244.6,1958.5 247.3,1956.7C250.0,1954.9 252.7,1952.9 255.4,1950.7C258.1,1948.6 260.7,1946.3 263.4,1943.9C266.1,1941.4 268.8,1938.9 271.5,1936.3C274.2,1933.7 276.8,1931.0 279.5,1928.4C282.2,1925.8 284.9,1923.2 287.6,1920.8C290.3,1918.3 292.9,1916.0 295.6,1913.8C298.3,1911.6 301.0,1909.5 303.7,1907.4C306.4,1905.3 309.0,1903.3 311.7,1901.1C314.4,1899.0 317.1,1896.8 319.8,1894.5C322.5,1892.2 325.1,1889.7 327.8,1887.0C330.5,1884.3 333.2,1881.5 335.9,1878.5C338.6,1875.6 341.2,1872.5 343.9,1869.4C346.6,1866.3 349.3,1863.1 352.0,1859.9C354.7,1856.8 357.4,1853.6 360.0,1850.4C362.7,1847.2 365.4,1843.9 368.1,1840.3C370.8,1836.8 373.5,1833.1 376.1,1828.9C378.8,1824.8 381.5,1820.4 384.2,1815.4C386.9,1810.4 389.6,1804.9 392.2,1798.9C394.9,1792.9 397.6,1786.4 400.3,1779.5C403.0,1772.5 405.7,1765.1 408.3,1757.3C411.0,1749.4 413.7,1741.2 416.4,1732.5C419.1,1723.9 421.8,1714.9 424.4,1705.6C427.1,1696.3 429.8,1686.9 432.5,1677.3C435.2,1667.8 437.9,1658.2 440.5,1648.7C443.2,1639.2 445.9,1629.9 448.6,1620.8C451.3,1611.7 454.0,1603.0 456.7,1594.5C459.3,1586.1 462.0,1577.9 464.7,1570.1C467.4,1562.4 470.1,1555.0 472.8,1547.9C475.4,1540.9 478.1,1534.3 480.8,1528.1C483.5,1521.9 486.2,1516.1 488.9,1510.7C491.5,1505.4 494.2,1500.5 496.9,1496.0C499.6,1491.5 502.3,1487.4 505.0,1483.8C507.6,1480.2 510.3,1477.0 513.0,1474.2C515.7,1471.5 518.4,1469.2 521.1,1467.2C523.7,1465.2 526.4,1463.6 529.1,1462.2C531.8,1460.8 534.5,1459.6 537.2,1458.7C539.8,1457.7 542.5,1456.9 545.2,1456.1C547.9,1455.4 550.6,1454.7 553.3,1454.1C556.0,1453.6 558.6,1453.1 561.3,1452.7C564.0,1452.4 566.7,1452.1 569.4,1451.9C572.1,1451.7 574.7,1451.6 577.4,1451.6C580.1,1451.5 582.8,1451.6 585.5,1451.7C588.2,1451.9 590.8,1452.1 593.5,1452.4C596.2,1452.7 598.9,1453.0 601.6,1453.4C604.3,1453.8 606.9,1454.3 609.6,1454.8C612.3,1455.3 615.0,1455.8 617.7,1456.4C620.4,1456.9 623.0,1457.5 625.7,1458.2C628.4,1458.8 631.1,1459.4 633.8,1460.1C636.5,1460.7 639.1,1461.4 641.8,1462.1C644.5,1462.7 647.2,1463.4 649.9,1464.1C652.6,1464.8 655.2,1465.4 657.9,1466.1C660.6,1466.8 663.3,1467.5 666.0,1468.2C668.7,1468.9 671.4,1469.6 674.0,1470.3C676.7,1471.0 679.4,1471.6 682.1,1472.3C684.8,1473.0 687.5,1473.7 690.1,1474.4C692.8,1475.1 695.5,1475.8 698.2,1476.5C700.9,1477.2 703.6,1477.9 706.2,1478.6C708.9,1479.3 711.6,1480.0 714.3,1480.7C717.0,1481.3 719.7,1482.0 722.3,1482.7C725.0,1483.4 727.7,1484.1 730.4,1484.8C733.1,1485.5 735.8,1486.1 738.4,1486.8C741.1,1487.5 743.8,1488.2 746.5,1488.9C749.2,1489.6 751.9,1490.2 754.5,1490.9C757.2,1491.6 759.9,1492.3 762.6,1493.0"/>
<path class="cv" stroke="#0CDDF8" d="M134.6,1986.0C137.3,1985.6 140.0,1985.1 142.7,1984.7C145.3,1984.3 148.0,1983.8 150.7,1983.4C153.4,1982.9 156.1,1982.4 158.8,1982.0C161.4,1981.5 164.1,1981.0 166.8,1980.5C169.5,1980.0 172.2,1979.5 174.9,1979.0C177.5,1978.5 180.2,1978.0 182.9,1977.5C185.6,1977.0 188.3,1976.5 191.0,1976.0C193.6,1975.5 196.3,1975.0 199.0,1974.5C201.7,1974.0 204.4,1973.5 207.1,1972.9C209.7,1972.4 212.4,1971.8 215.1,1971.2C217.8,1970.6 220.5,1970.0 223.2,1969.2C225.8,1968.5 228.5,1967.7 231.2,1966.9C233.9,1966.0 236.6,1965.0 239.3,1963.8C242.0,1962.6 244.6,1961.3 247.3,1959.7C250.0,1958.1 252.7,1956.3 255.4,1954.1C258.1,1951.9 260.7,1949.4 263.4,1946.6C266.1,1943.7 268.8,1940.6 271.5,1937.2C274.2,1933.9 276.8,1930.4 279.5,1926.8C282.2,1923.3 284.9,1919.8 287.6,1916.3C290.3,1912.9 292.9,1909.6 295.6,1906.5C298.3,1903.3 301.0,1900.3 303.7,1897.4C306.4,1894.4 309.0,1891.5 311.7,1888.5C314.4,1885.5 317.1,1882.4 319.8,1879.1C322.5,1875.8 325.1,1872.3 327.8,1868.5C330.5,1864.8 333.2,1860.9 335.9,1856.8C338.6,1852.8 341.2,1848.6 343.9,1844.4C346.6,1840.1 349.3,1835.9 352.0,1831.6C354.7,1827.3 357.4,1823.1 360.0,1818.9C362.7,1814.7 365.4,1810.4 368.1,1806.0C370.8,1801.6 373.5,1797.0 376.1,1792.2C378.8,1787.3 381.5,1782.2 384.2,1776.7C386.9,1771.1 389.6,1765.2 392.2,1758.9C394.9,1752.7 397.6,1746.1 400.3,1739.2C403.0,1732.4 405.7,1725.4 408.3,1718.4C411.0,1711.3 413.7,1704.1 416.4,1697.0C419.1,1689.9 421.8,1682.9 424.4,1675.9C427.1,1668.9 429.8,1662.0 432.5,1655.1C435.2,1648.3 437.9,1641.5 440.5,1634.8C443.2,1628.1 445.9,1621.5 448.6,1615.0C451.3,1608.5 454.0,1602.1 456.7,1595.8C459.3,1589.5 462.0,1583.4 464.7,1577.6C467.4,1571.8 470.1,1566.2 472.8,1561.1C475.4,1555.9 478.1,1551.0 480.8,1546.7C483.5,1542.3 486.2,1538.3 488.9,1534.8C491.5,1531.2 494.2,1527.9 496.9,1524.9C499.6,1521.9 502.3,1519.1 505.0,1516.5C507.6,1513.9 510.3,1511.4 513.0,1509.0C515.7,1506.6 518.4,1504.2 521.1,1501.9C523.7,1499.7 526.4,1497.5 529.1,1495.4C531.8,1493.4 534.5,1491.4 537.2,1489.6C539.8,1487.8 542.5,1486.2 545.2,1484.7C547.9,1483.2 550.6,1481.9 553.3,1480.7C556.0,1479.5 558.6,1478.5 561.3,1477.6C564.0,1476.6 566.7,1475.8 569.4,1475.1C572.1,1474.4 574.7,1473.8 577.4,1473.2C580.1,1472.7 582.8,1472.2 585.5,1471.8C588.2,1471.4 590.8,1471.1 593.5,1470.8C596.2,1470.5 598.9,1470.3 601.6,1470.1C604.3,1470.0 606.9,1469.9 609.6,1469.8C612.3,1469.7 615.0,1469.7 617.7,1469.7C620.4,1469.8 623.0,1469.8 625.7,1469.9C628.4,1470.0 631.1,1470.2 633.8,1470.3C636.5,1470.5 639.1,1470.6 641.8,1470.8C644.5,1471.0 647.2,1471.2 649.9,1471.5C652.6,1471.7 655.2,1472.0 657.9,1472.3C660.6,1472.5 663.3,1472.8 666.0,1473.1C668.7,1473.4 671.4,1473.8 674.0,1474.1C676.7,1474.5 679.4,1474.8 682.1,1475.2C684.8,1475.6 687.5,1476.0 690.1,1476.4C692.8,1476.8 695.5,1477.2 698.2,1477.7C700.9,1478.1 703.6,1478.6 706.2,1479.0C708.9,1479.5 711.6,1480.0 714.3,1480.5C717.0,1481.0 719.7,1481.5 722.3,1482.0C725.0,1482.5 727.7,1483.0 730.4,1483.6C733.1,1484.2 735.8,1484.7 738.4,1485.3C741.1,1485.9 743.8,1486.6 746.5,1487.2C749.2,1487.8 751.9,1488.5 754.5,1489.2C757.2,1489.9 759.9,1490.6 762.6,1491.3"/>
<path class="cv" stroke="#0A4CF5" d="M134.6,1983.1C137.3,1982.8 140.0,1982.5 142.7,1982.1C145.3,1981.8 148.0,1981.5 150.7,1981.2C153.4,1980.8 156.1,1980.5 158.8,1980.1C161.4,1979.8 164.1,1979.4 166.8,1979.1C169.5,1978.7 172.2,1978.3 174.9,1977.9C177.5,1977.4 180.2,1977.0 182.9,1976.6C185.6,1976.1 188.3,1975.7 191.0,1975.2C193.6,1974.8 196.3,1974.3 199.0,1973.9C201.7,1973.4 204.4,1973.0 207.1,1972.5C209.7,1972.0 212.4,1971.5 215.1,1971.0C217.8,1970.5 220.5,1969.9 223.2,1969.2C225.8,1968.5 228.5,1967.8 231.2,1966.9C233.9,1966.1 236.6,1965.2 239.3,1964.0C242.0,1962.9 244.6,1961.6 247.3,1960.1C250.0,1958.6 252.7,1956.8 255.4,1954.8C258.1,1952.7 260.7,1950.3 263.4,1947.7C266.1,1945.0 268.8,1942.0 271.5,1938.8C274.2,1935.6 276.8,1932.1 279.5,1928.6C282.2,1925.0 284.9,1921.3 287.6,1917.6C290.3,1913.8 292.9,1910.1 295.6,1906.3C298.3,1902.5 301.0,1898.7 303.7,1894.8C306.4,1890.9 309.0,1887.0 311.7,1882.9C314.4,1878.8 317.1,1874.6 319.8,1870.2C322.5,1865.8 325.1,1861.2 327.8,1856.4C330.5,1851.6 333.2,1846.7 335.9,1841.7C338.6,1836.8 341.2,1831.7 343.9,1826.7C346.6,1821.6 349.3,1816.6 352.0,1811.7C354.7,1806.7 357.4,1801.9 360.0,1797.2C362.7,1792.4 365.4,1787.8 368.1,1783.1C370.8,1778.5 373.5,1773.8 376.1,1769.1C378.8,1764.3 381.5,1759.6 384.2,1754.6C386.9,1749.7 389.6,1744.6 392.2,1739.4C394.9,1734.2 397.6,1728.9 400.3,1723.6C403.0,1718.3 405.7,1712.9 408.3,1707.6C411.0,1702.3 413.7,1697.0 416.4,1691.9C419.1,1686.7 421.8,1681.7 424.4,1676.7C427.1,1671.8 429.8,1666.9 432.5,1662.2C435.2,1657.5 437.9,1652.8 440.5,1648.2C443.2,1643.7 445.9,1639.2 448.6,1634.7C451.3,1630.3 454.0,1625.9 456.7,1621.6C459.3,1617.3 462.0,1613.0 464.7,1608.8C467.4,1604.6 470.1,1600.5 472.8,1596.3C475.4,1592.2 478.1,1588.2 480.8,1584.2C483.5,1580.1 486.2,1576.2 488.9,1572.3C491.5,1568.4 494.2,1564.5 496.9,1560.8C499.6,1557.1 502.3,1553.4 505.0,1549.9C507.6,1546.4 510.3,1543.0 513.0,1539.7C515.7,1536.5 518.4,1533.4 521.1,1530.4C523.7,1527.4 526.4,1524.5 529.1,1521.7C531.8,1518.9 534.5,1516.2 537.2,1513.5C539.8,1510.9 542.5,1508.3 545.2,1505.8C547.9,1503.2 550.6,1500.8 553.3,1498.3C556.0,1495.9 558.6,1493.6 561.3,1491.4C564.0,1489.2 566.7,1487.0 569.4,1485.1C572.1,1483.1 574.7,1481.2 577.4,1479.5C580.1,1477.9 582.8,1476.3 585.5,1474.9C588.2,1473.5 590.8,1472.2 593.5,1471.1C596.2,1469.9 598.9,1468.9 601.6,1468.0C604.3,1467.0 606.9,1466.2 609.6,1465.5C612.3,1464.8 615.0,1464.1 617.7,1463.6C620.4,1463.1 623.0,1462.6 625.7,1462.2C628.4,1461.8 631.1,1461.5 633.8,1461.2C636.5,1461.0 639.1,1460.8 641.8,1460.6C644.5,1460.4 647.2,1460.3 649.9,1460.2C652.6,1460.2 655.2,1460.2 657.9,1460.2C660.6,1460.2 663.3,1460.2 666.0,1460.3C668.7,1460.4 671.4,1460.5 674.0,1460.7C676.7,1460.8 679.4,1461.0 682.1,1461.2C684.8,1461.4 687.5,1461.7 690.1,1461.9C692.8,1462.2 695.5,1462.5 698.2,1462.8C700.9,1463.0 703.6,1463.4 706.2,1463.7C708.9,1464.0 711.6,1464.3 714.3,1464.7C717.0,1465.0 719.7,1465.4 722.3,1465.8C725.0,1466.2 727.7,1466.6 730.4,1467.0C733.1,1467.5 735.8,1468.0 738.4,1468.5C741.1,1469.0 743.8,1469.5 746.5,1470.1C749.2,1470.6 751.9,1471.3 754.5,1471.9C757.2,1472.6 759.9,1473.3 762.6,1474.0"/>
<path class="cv" stroke="#4805F5" d="M134.6,1989.0C137.3,1988.9 140.0,1988.8 142.7,1988.5C145.3,1988.3 148.0,1988.1 150.7,1987.8C153.4,1987.5 156.1,1987.2 158.8,1986.8C161.4,1986.5 164.1,1986.2 166.8,1985.8C169.5,1985.5 172.2,1985.2 174.9,1984.8C177.5,1984.5 180.2,1984.2 182.9,1983.8C185.6,1983.5 188.3,1983.1 191.0,1982.7C193.6,1982.4 196.3,1981.9 199.0,1981.5C201.7,1981.1 204.4,1980.6 207.1,1980.1C209.7,1979.6 212.4,1979.0 215.1,1978.5C217.8,1977.9 220.5,1977.3 223.2,1976.8C225.8,1976.2 228.5,1975.6 231.2,1974.9C233.9,1974.3 236.6,1973.7 239.3,1972.9C242.0,1972.1 244.6,1971.2 247.3,1970.0C250.0,1968.9 252.7,1967.6 255.4,1965.9C258.1,1964.2 260.7,1962.3 263.4,1959.9C266.1,1957.6 268.8,1954.9 271.5,1951.9C274.2,1949.0 276.8,1945.7 279.5,1942.3C282.2,1938.8 284.9,1935.2 287.6,1931.3C290.3,1927.5 292.9,1923.5 295.6,1919.5C298.3,1915.4 301.0,1911.2 303.7,1906.9C306.4,1902.6 309.0,1898.2 311.7,1893.6C314.4,1889.1 317.1,1884.4 319.8,1879.7C322.5,1874.9 325.1,1870.0 327.8,1865.0C330.5,1860.1 333.2,1855.0 335.9,1850.0C338.6,1844.9 341.2,1839.8 343.9,1834.7C346.6,1829.7 349.3,1824.6 352.0,1819.7C354.7,1814.7 357.4,1809.9 360.0,1805.1C362.7,1800.3 365.4,1795.6 368.1,1790.9C370.8,1786.2 373.5,1781.5 376.1,1776.7C378.8,1772.0 381.5,1767.2 384.2,1762.3C386.9,1757.4 389.6,1752.4 392.2,1747.3C394.9,1742.3 397.6,1737.1 400.3,1732.0C403.0,1726.9 405.7,1721.8 408.3,1716.7C411.0,1711.7 413.7,1706.7 416.4,1701.9C419.1,1697.0 421.8,1692.4 424.4,1687.8C427.1,1683.2 429.8,1678.8 432.5,1674.5C435.2,1670.1 437.9,1665.9 440.5,1661.7C443.2,1657.6 445.9,1653.5 448.6,1649.4C451.3,1645.4 454.0,1641.4 456.7,1637.5C459.3,1633.5 462.0,1629.6 464.7,1625.7C467.4,1621.9 470.1,1618.0 472.8,1614.3C475.4,1610.5 478.1,1606.7 480.8,1603.0C483.5,1599.2 486.2,1595.5 488.9,1591.9C491.5,1588.2 494.2,1584.5 496.9,1580.9C499.6,1577.3 502.3,1573.7 505.0,1570.2C507.6,1566.6 510.3,1563.1 513.0,1559.6C515.7,1556.2 518.4,1552.7 521.1,1549.3C523.7,1545.9 526.4,1542.5 529.1,1539.2C531.8,1535.9 534.5,1532.7 537.2,1529.5C539.8,1526.3 542.5,1523.1 545.2,1520.1C547.9,1517.0 550.6,1514.0 553.3,1511.1C556.0,1508.2 558.6,1505.3 561.3,1502.5C564.0,1499.8 566.7,1497.1 569.4,1494.5C572.1,1491.8 574.7,1489.3 577.4,1486.8C580.1,1484.4 582.8,1482.0 585.5,1479.7C588.2,1477.4 590.8,1475.2 593.5,1473.0C596.2,1470.9 598.9,1468.8 601.6,1466.9C604.3,1464.9 606.9,1463.0 609.6,1461.2C612.3,1459.3 615.0,1457.6 617.7,1455.9C620.4,1454.3 623.0,1452.7 625.7,1451.2C628.4,1449.7 631.1,1448.2 633.8,1446.9C636.5,1445.6 639.1,1444.3 641.8,1443.1C644.5,1441.9 647.2,1440.8 649.9,1439.8C652.6,1438.7 655.2,1437.7 657.9,1436.8C660.6,1435.9 663.3,1435.1 666.0,1434.4C668.7,1433.6 671.4,1432.9 674.0,1432.3C676.7,1431.6 679.4,1431.1 682.1,1430.6C684.8,1430.0 687.5,1429.6 690.1,1429.2C692.8,1428.8 695.5,1428.5 698.2,1428.2C700.9,1427.9 703.6,1427.6 706.2,1427.5C708.9,1427.3 711.6,1427.1 714.3,1427.0C717.0,1426.9 719.7,1426.9 722.3,1426.9C725.0,1426.9 727.7,1426.9 730.4,1427.0C733.1,1427.1 735.8,1427.2 738.4,1427.4C741.1,1427.6 743.8,1427.8 746.5,1428.1C749.2,1428.3 751.9,1428.6 754.5,1428.9C757.2,1429.2 759.9,1429.6 762.6,1430.0"/>
<text class="big" transform="translate(366.6,1475.4) scale(1,1.04)">PC3</text>
</g>
<g id="legend">
<rect x="442.9" y="364.7" width="310.5" height="220.4" fill="#fff" stroke="#000" stroke-width="1.1"/>
<text class="tk" transform="translate(597.8,401.2) scale(1,1.04)" text-anchor="middle" style="font-size:29.7px">quantiles</text>
<line x1="480.2" y1="438.3" x2="555.7" y2="438.3" stroke="#4805F5" stroke-width="4.5" stroke-linecap="round"/>
<text class="tk" transform="translate(594,449.0) scale(1,1.04)" style="font-size:29.1px">&lt;25%</text>
<line x1="480.2" y1="475.2" x2="555.7" y2="475.2" stroke="#0A4CF5" stroke-width="4.5" stroke-linecap="round"/>
<text class="tk" transform="translate(594,485.9) scale(1,1.04)" style="font-size:29.1px">25-50%</text>
<line x1="480.2" y1="511.9" x2="555.7" y2="511.9" stroke="#0CDDF8" stroke-width="4.5" stroke-linecap="round"/>
<text class="tk" transform="translate(594,522.6) scale(1,1.04)" style="font-size:29.1px">50-75%</text>
<line x1="480.2" y1="548.6" x2="555.7" y2="548.6" stroke="#14F550" stroke-width="4.5" stroke-linecap="round"/>
<text class="tk" transform="translate(594,559.3) scale(1,1.04)" style="font-size:29.1px">&gt;75%</text>
</g>
<text class="big" transform="translate(28.0,1015.7) rotate(-90) scale(1,1.04)" text-anchor="middle">Normalised reflectance</text>
<text class="big" transform="translate(487.4,2137.9) scale(1,1.04)" text-anchor="middle">Wavelength (nm)</text>
</svg></body></html>
